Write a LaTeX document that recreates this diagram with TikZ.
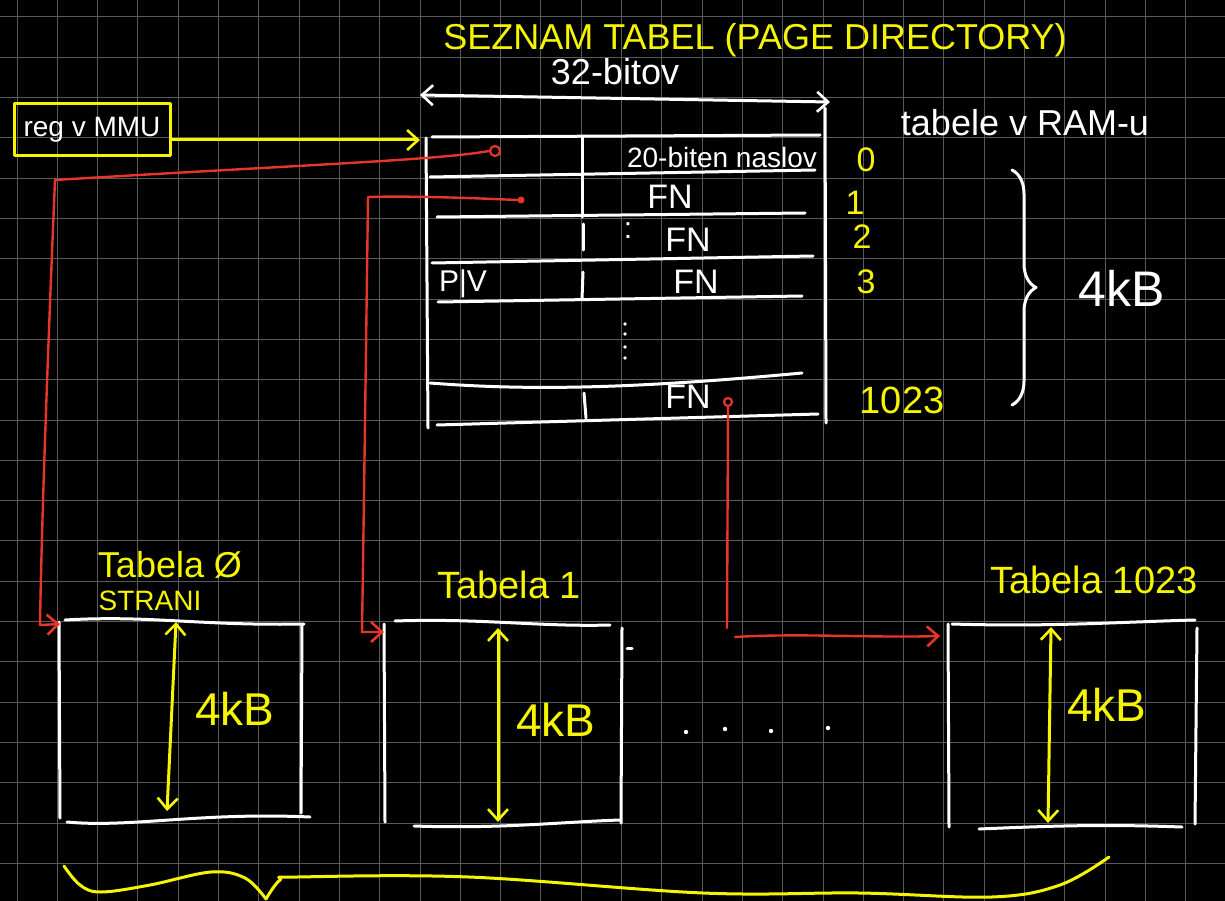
\documentclass[tikz,border=0pt]{standalone}
\usepackage{fontspec}
\setmainfont{Liberation Sans}
\usetikzlibrary{arrows.meta,decorations.pathreplacing}
\definecolor{hy}{HTML}{F5F500}
\definecolor{hr}{HTML}{E8352A}
\definecolor{gridc}{HTML}{5A5A5A}
\begin{document}
\begin{tikzpicture}[x=1pt,y=-1pt,line cap=round,line join=round,
  wl/.style={white,line width=3pt},
  yl/.style={hy,line width=3pt},
  rl/.style={hr,line width=2.4pt},
  tip/.style={-{Straight Barb[length=11pt,width=20pt,line width=2.6pt]}},
  dtip/.style={{Straight Barb[length=11pt,width=20pt,line width=2.6pt]}-{Straight Barb[length=11pt,width=20pt,line width=2.6pt]}},
  txt/.style={inner sep=0pt,font=\fontsize{#1}{#1}\selectfont},
  wt/.style={txt=#1,text=white},
  yt/.style={txt=#1,text=hy}]
% background and grid
\fill[black] (0,0) rectangle (1225,901);
\useasboundingbox (0,0) rectangle (1225,901);
\foreach \i in {0,...,30} \draw[gridc,line width=1pt] ({17+40.3*\i},0) -- ({17+40.3*\i},901);
\foreach \j in {0,...,22} \draw[gridc,line width=1pt] (0,{17+40.3*\j}) -- (1225,{17+40.3*\j});

% title and width arrow
\node[yt=36] (title) at (755,40) {SEZNAM TABEL (PAGE DIRECTORY)};
\node[wt=36] (bits) at (615,72) {32-bitov};
\coordinate (wL) at (420,95);
\coordinate (wR) at (830,102);
\draw[wl,dtip] (wL) -- (wR);

% register box
\node[draw=hy,line width=3pt,minimum width=156pt,minimum height=52pt,wt=28] (reg) at (92,130) {reg v MMU};
\coordinate (pd) at (420,140);
\draw[yl,tip] (reg.east |- pd) -- (pd);

% page directory table
\draw[wl] (426,138) -- (428,428);
\draw[wl] (825,108) -- (826,423);
\draw[wl] (432,137) -- (820,135);
\draw[wl] (430,177) -- (815,170);
\draw[wl] (437,217) -- (805,213);
\draw[wl] (432,263) -- (813,256);
\draw[wl] (438,302) -- (802,296);
\draw[wl] (430,383) .. controls (520,390) and (620,390) .. (802,373);
\draw[wl] (437,425) -- (818,414);
\draw[wl] (582,137) -- (582,217);
\draw[wl] (583,224) -- (583,250);
\draw[wl] (583,272) -- (582,299);
\draw[wl] (584,393) -- (586,418);

\node[wt=28] (r0) at (722,157) {20-biten naslov};
\node[wt=36] (tabram) at (1025,123) {tabele v RAM-u};
\node[wt=34] (fn1) at (670,197) {FN};
\node[wt=30] (colon) at (628,231) {:};
\node[wt=34] (fn2) at (688,240) {FN};
\node[wt=34] (fn3) at (696,282) {FN};
\node[wt=30] (pv) at (463,284) {P|V};
\node[wt=34] (fnl) at (688,397) {FN};
\foreach \y in {324,334,347,358} \fill[white] (625,\y) circle (1.8);

% row indices
\node[yt=34] (i0) at (866,160) {0};
\node[yt=34] (i1) at (855,203) {1};
\node[yt=34] (i2) at (862,237) {2};
\node[yt=34] (i3) at (866,282) {3};
\node[yt=38] (i4) at (902,400) {1023};

% brace and size
\draw[wl,decorate,decoration={brace,amplitude=24pt}] (1012,170) -- (1012,405);
\node[wt=50] (kb) at (1122,288) {4kB};

% bottom tables
\draw[wl] (59,622) -- (60,818);
\draw[wl] (65,620) .. controls (150,615) and (200,626) .. (304,624);
\draw[wl] (302,625) -- (301,813);
\draw[wl] (67,822) .. controls (130,828) and (200,812) .. (310,817);

\draw[wl] (384,624) -- (385,822);
\draw[wl] (395,621) .. controls (480,618) and (540,627) .. (610,625);
\draw[wl] (622,628) -- (621,823);
\draw[wl] (414,826) .. controls (500,829) and (560,822) .. (620,820);

\draw[wl] (948,624) -- (949,827);
\draw[wl] (952,624) .. controls (1050,627) and (1120,622) .. (1195,620);
\draw[wl] (1197,628) -- (1195,824);
\draw[wl] (979,829) .. controls (1050,826) and (1100,824) .. (1182,827);

\draw[wl] (627,648) -- (632,648);
\foreach \x/\y in {686/732,725/729,771/731,828/728} \fill[white] (\x,\y) circle (2.2);

\node[yt=36] (lab0) at (170,565) {Tabela Ø};
\node[yt=28] (lab0b) at (150,601) {STRANI};
\node[yt=38] (lab1) at (509,585) {Tabela 1};
\node[yt=38] (lab2) at (1094,580) {Tabela 1023};

\coordinate (a0t) at (176,622); \coordinate (a0b) at (167,811);
\coordinate (a1t) at (498,628); \coordinate (a1b) at (498,822);
\coordinate (a2t) at (1051,627); \coordinate (a2b) at (1048,823);
\draw[yl,dtip] (a0t) -- (a0b);
\draw[yl,dtip] (a1t) -- (a1b);
\draw[yl,dtip] (a2t) -- (a2b);
\node[yt=46] (kb0) at (235,709) {4kB};
\node[yt=46] (kb1) at (556,720) {4kB};
\node[yt=46] (kb2) at (1107,705) {4kB};

% red pointers
\node[draw=hr,circle,line width=2.2pt,minimum size=10pt,inner sep=0pt] (d0) at (495,151) {};
\node[fill=hr,circle,minimum size=7pt,inner sep=0pt] (d1) at (521,200) {};
\node[draw=hr,circle,line width=2.2pt,minimum size=8pt,inner sep=0pt] (d2) at (728,402) {};
\coordinate (e0) at (60,624);
\coordinate (e1) at (384,632);
\coordinate (c2) at (727,628);
\coordinate (c3) at (735,637);
\coordinate (e2) at (940,636);
\draw[rl,tip] (d0.west) .. controls (440,160) and (300,165) .. (55,180) .. controls (50,300) and (42,500) .. (40,625) -- (e0);
\draw[rl,tip] (d1.west) .. controls (450,197) and (400,196) .. (368,197) .. controls (366,350) and (364,500) .. (362,632) -- (e1);
\draw[rl] (d2.south) -- (c2);
\draw[rl,tip] (c3) .. controls (800,633) and (870,638) .. (e2);

% bottom brace
\draw[yl] plot[smooth,tension=0.6] coordinates {(64,866) (80,885) (101,892) (150,885) (211,872) (245,878) (266,899)};
\draw[yl] plot[smooth,tension=0.6] coordinates {(266,899) (280,880) (297,877) (469,877) (703,893) (859,893) (992,897) (1060,885) (1109,857)};
\end{tikzpicture}
\end{document}
